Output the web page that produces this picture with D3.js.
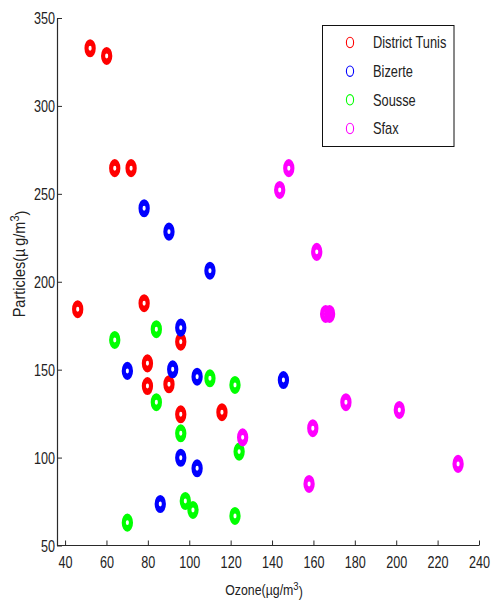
<!DOCTYPE html>
<html>
<head>
<meta charset="utf-8">
<script src="https://cdn.jsdelivr.net/npm/d3@7"></script>
<style>
  html, body { margin: 0; padding: 0; background: #fff; }
  svg text { font-family: "Liberation Sans", Arial, sans-serif; fill: #222; }
</style>
</head>
<body>
<svg id="chart" width="491" height="609"></svg>
<script>
// Ozone vs particle concentration for four Tunisian regions
const seriesNames = ["District Tunis", "Bizerte", "Sousse", "Sfax"];
const seriesColors = ["#ff0000", "#0000ff", "#00ff00", "#ff00ff"];

const tunisOzone = [52.1, 60.1, 64.0, 71.9, 46.1, 78.2, 95.9, 79.8, 79.8, 90.2, 95.9, 115.8];
const tunisParticles = [332.8, 328.4, 264.6, 264.6, 184.4, 187.8, 165.9, 153.6, 140.7, 141.7, 124.6, 125.8];

const bizerteOzone = [78.2, 90.2, 110.0, 95.9, 70.1, 92.0, 103.8, 145.5, 95.9, 103.8, 86.0];
const bizerteParticles = [241.8, 228.5, 206.3, 173.9, 149.3, 150.2, 146.0, 144.1, 99.9, 93.9, 73.6];

const sousseOzone = [84.1, 64.0, 110.0, 122.1, 84.1, 95.9, 124.1, 98.1, 101.8, 122.1, 70.1];
const sousseParticles = [173.0, 166.9, 145.1, 141.3, 131.5, 113.8, 103.4, 75.3, 70.2, 66.8, 63.0];

const sfaxOzone = [148.1, 143.7, 161.6, 165.9, 167.8, 125.8, 175.7, 159.7, 201.5, 229.9, 157.9];
const sfaxParticles = [264.6, 252.2, 217.0, 181.7, 181.7, 111.5, 131.5, 116.7, 127.1, 96.4, 85.0];

const xTicks = [40, 60, 80, 100, 120, 140, 160, 180, 200, 220, 240];
const yTicks = [50, 100, 150, 200, 250, 300, 350];

const seriesX = [tunisOzone, bizerteOzone, sousseOzone, sfaxOzone];
const seriesY = [tunisParticles, bizerteParticles, sousseParticles, sfaxParticles];

const svg = d3.select("#chart");

const x = d3.scaleLinear().domain([36.1, 240]).range([57, 479]);
const y = d3.scaleLinear().domain([50, 350]).range([545.5, 18]);

const axisColor = "#2a2a2a";

// X axis with inward ticks
const xAxis = svg.append("g")
  .attr("transform", `translate(0,${y(50)})`)
  .call(d3.axisBottom(x).tickValues(xTicks).tickSizeInner(-5).tickSizeOuter(0).tickPadding(0));
xAxis.select(".domain").attr("stroke", axisColor).attr("d", `M${x(36.1)},0H${x(240)}`);
xAxis.selectAll(".tick line").attr("stroke", axisColor);
xAxis.selectAll(".tick text")
  .attr("y", 0).attr("dy", null)
  .attr("transform", "translate(0,22) scale(0.95,1.18)")
  .style("font-size", "13.3px").attr("fill", "#222");

// Y axis with inward ticks
const yAxis = svg.append("g")
  .attr("transform", `translate(${x(36.1)},0)`)
  .call(d3.axisLeft(y).tickValues(yTicks).tickSizeInner(-5).tickSizeOuter(0).tickPadding(0));
yAxis.select(".domain").attr("stroke", axisColor);
yAxis.selectAll(".tick line").attr("stroke", axisColor);
yAxis.selectAll(".tick text")
  .attr("x", 0).attr("dy", "0.36em")
  .attr("transform", "translate(-2,0) scale(0.95,1.18)")
  .style("font-size", "13.3px").attr("fill", "#222");
svg.selectAll(".domain").attr("stroke-width", 1.2);

// Axis titles
const xTitle = svg.append("text")
  .attr("transform", `translate(${(x(36.1) + x(240)) / 2 - 4},595) scale(0.95,1.18)`)
  .attr("text-anchor", "middle")
  .style("font-size", "13px");
xTitle.append("tspan").text("Ozone(µg/m");
xTitle.append("tspan").attr("dy", "-0.45em").style("font-size", "10px").text("3");
xTitle.append("tspan").attr("dy", "0.45em").text(")");

const yTitle = svg.append("text")
  .attr("transform", `translate(25,264) rotate(-90) scale(1,1.12)`)
  .attr("text-anchor", "middle")
  .style("font-size", "14.5px");
yTitle.append("tspan").text("Particles(µ\u2009g/m");
yTitle.append("tspan").attr("dy", "-0.45em").style("font-size", "11px").text("3");
yTitle.append("tspan").attr("dy", "0.45em").text(")");

// Thick ring markers, drawn slightly elongated vertically
seriesNames.forEach((name, i) => {
  const pts = seriesX[i].map((v, k) => [v, seriesY[i][k]]);
  svg.append("g").attr("class", "series")
    .selectAll("g.pt").data(pts).join("g")
    .attr("class", "pt")
    .attr("transform", d => `translate(${x(d[0])},${y(d[1])}) scale(1,1.6)`)
    .append("circle")
    .attr("r", 3.6)
    .attr("fill", "none")
    .attr("stroke", seriesColors[i])
    .attr("stroke-width", 4.1);
});

// Legend
const legend = svg.append("g");
legend.append("rect")
  .attr("x", 322.5).attr("y", 25.5).attr("width", 131.5).attr("height", 121)
  .attr("fill", "#fff").attr("stroke", "#111").attr("stroke-width", 1);
const rowY = d3.scalePoint().domain(seriesNames).range([42.5, 128.5]);
seriesNames.forEach((name, i) => {
  legend.append("ellipse")
    .attr("cx", 350).attr("cy", rowY(name))
    .attr("rx", 3.6).attr("ry", 5.2)
    .attr("fill", "none").attr("stroke", seriesColors[i]).attr("stroke-width", 1.1);
  legend.append("text")
    .attr("transform", `translate(373,${rowY(name)}) scale(0.95,1.18)`)
    .attr("dy", "0.36em")
    .style("font-size", "13.5px")
    .text(name);
});
</script>
</body>
</html>
